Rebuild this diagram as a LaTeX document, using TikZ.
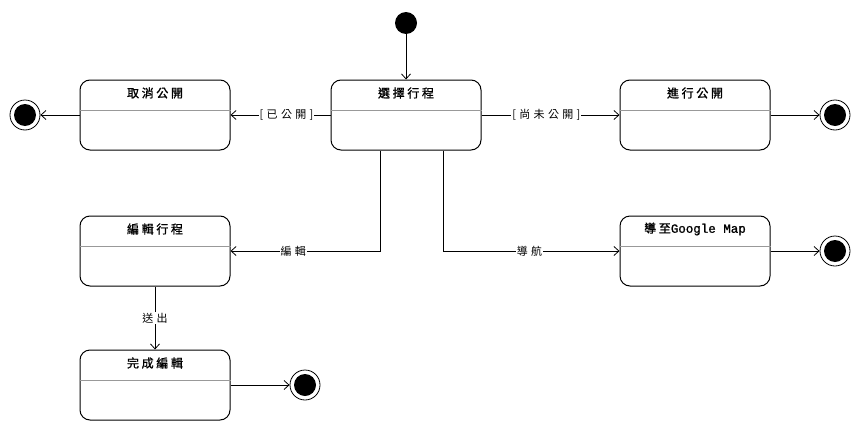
\documentclass[tikz,border=0pt]{standalone}
\usepackage{fontspec}
\setmainfont{Liberation Serif}
\newfontfamily\cjktitle{Noto Sans CJK TC}[LetterSpace=22,FakeBold=1.2]
\newfontfamily\cjklabel{Noto Sans CJK TC}[LetterSpace=30]
\newfontfamily\latintitle{Liberation Mono}[FakeBold=1.2]
\usetikzlibrary{arrows.meta}
\begin{document}
\begin{tikzpicture}[x=1pt,y=-1pt,
  statebox/.style={draw,line width=1pt,rounded corners=10pt,minimum width=150pt,minimum height=70pt,inner sep=0pt},
  divider/.style={draw=gray!80,line width=0.8pt},
  titletext/.style={font=\cjktitle\fontsize{12}{14}\selectfont},
  edgelabel/.style={fill=white,inner sep=1pt,font=\cjklabel\fontsize{11}{13}\selectfont},
  trans/.style={draw,line width=0.8pt,-{Straight Barb[length=5pt,width=9pt]}},
  initdot/.style={circle,fill=black,minimum size=22pt,inner sep=0pt},
  finalring/.style={circle,draw,line width=0.8pt,minimum size=30pt,inner sep=0pt},
  finaldot/.style={circle,fill=black,minimum size=22pt,inner sep=0pt}]
\useasboundingbox[fill=white] (0,0) rectangle (861,431);

% states
\node[statebox] (select) at (406,115) {};
\node[statebox] (cancel) at (155,115) {};
\node[statebox] (publish) at (695,115) {};
\node[statebox] (edit) at (155,251) {};
\node[statebox] (nav) at (695,251) {};
\node[statebox] (done) at (155,385) {};

% compartment lines and titles
\foreach \s/\t in {select/選擇行程, cancel/取消公開, publish/進行公開, edit/編輯行程, done/完成編輯}{
  \draw[divider] ([yshift=5pt]\s.west) -- ([yshift=5pt]\s.east);
  \node[titletext] at ([yshift=22pt]\s.center) {\t};
}
\draw[divider] ([yshift=5pt]nav.west) -- ([yshift=5pt]nav.east);
\node[titletext] at ([yshift=22pt]nav.center) {導至{\latintitle\fontsize{12.5}{14}\selectfont Google Map}};

% initial and final pseudostates
\node[initdot] (start) at (406,23) {};
\node[finalring] (endL) at (25,115) {};
\node[finaldot] at (endL) {};
\node[finalring] (endR) at (835,115) {};
\node[finaldot] at (endR) {};
\node[finalring] (endNav) at (835,251) {};
\node[finaldot] at (endNav) {};
\node[finalring] (endDone) at (305,385) {};
\node[finaldot] at (endDone) {};

% transitions
\draw[trans] (start) -- (select);
\draw[trans] (select) -- node[edgelabel,pos=0.44] {[已公開]} (cancel);
\draw[trans] (select) -- node[edgelabel,pos=0.47] {[尚未公開]} (publish);
\draw[trans] (cancel) -- (endL);
\draw[trans] (publish) -- (endR);
\draw[trans] (select.south -| 380,0) |- node[edgelabel,pos=0.79] {編輯} (edit.east);
\draw[trans] (select.south -| 443,0) |- node[edgelabel,pos=0.745] {導航} (nav.west);
\draw[trans] (nav) -- (endNav);
\draw[trans] (edit) -- node[edgelabel] {送出} (done);
\draw[trans] (done) -- (endDone);
\end{tikzpicture}
\end{document}
